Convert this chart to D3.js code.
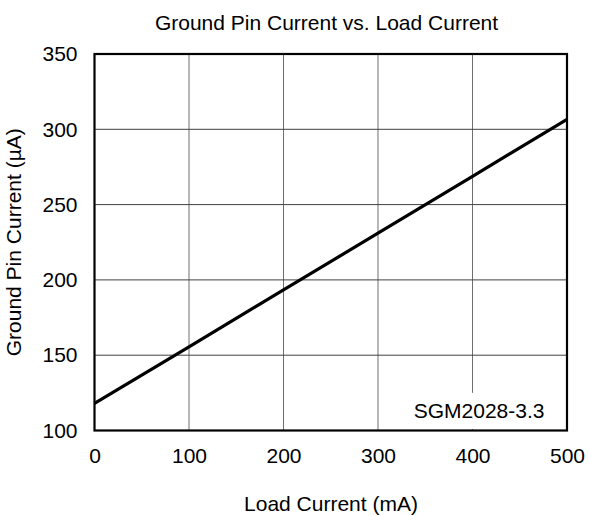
<!DOCTYPE html>
<html>
<head>
<meta charset="utf-8">
<script src="https://cdn.jsdelivr.net/npm/d3@7"></script>
<style>
  html, body { margin: 0; padding: 0; background: #fff; }
  svg { display: block; font-family: Arial, "Liberation Sans", sans-serif; }
</style>
</head>
<body>
<div id="chart"></div>
<script>
const title = "Ground Pin Current vs. Load Current";
const xLabel = "Load Current (mA)";
const yLabel = "Ground Pin Current (µA)";
const seriesLabel = "SGM2028-3.3";

const loadCurrent = [0, 100, 200, 300, 400, 500];
const groundPinCurrent = [118, 155.6, 193.4, 231, 268.8, 306.6];

const xTicks = [0, 100, 200, 300, 400, 500];
const yTicks = [100, 150, 200, 250, 300, 350];

const W = 589, H = 516;
const margin = { left: 94.5, right: 22, top: 54, bottom: 85.5 };

const svg = d3.select("#chart").append("svg")
  .attr("width", W).attr("height", H);

const x = d3.scaleLinear().domain([0, 500]).range([margin.left, W - margin.right]);
const y = d3.scaleLinear().domain([100, 350]).range([H - margin.bottom, margin.top]);

// grid
svg.append("g").selectAll("line.v").data(xTicks.slice(1, -1)).join("line")
  .attr("x1", d => x(d)).attr("x2", d => x(d))
  .attr("y1", y(100)).attr("y2", y(350))
  .attr("stroke", "#6e6e6e").attr("stroke-width", 1);
svg.append("g").selectAll("line.h").data(yTicks.slice(1, -1)).join("line")
  .attr("x1", x(0)).attr("x2", x(500))
  .attr("y1", d => y(d)).attr("y2", d => y(d))
  .attr("stroke", "#404040").attr("stroke-width", 1);

// label background + label
svg.append("rect")
  .attr("x", x(330)).attr("y", y(125))
  .attr("width", x(495) - x(330)).attr("height", y(101) - y(125))
  .attr("fill", "#fff");
svg.append("text")
  .attr("x", x(407)).attr("y", y(108.5))
  .attr("text-anchor", "middle").attr("font-size", 21)
  .attr("fill", "#000").text(seriesLabel);

// line
svg.append("path")
  .datum(loadCurrent.map((d, i) => [d, groundPinCurrent[i]]))
  .attr("fill", "none").attr("stroke", "#000").attr("stroke-width", 3.2)
  .attr("d", d3.line().x(d => x(d[0])).y(d => y(d[1])));

// frame
svg.append("rect")
  .attr("x", x(0)).attr("y", y(350))
  .attr("width", x(500) - x(0)).attr("height", y(100) - y(350))
  .attr("fill", "none").attr("stroke", "#000").attr("stroke-width", 2.2);

// axes (labels only)
const xAxis = svg.append("g").attr("transform", `translate(0,${y(100)})`)
  .call(d3.axisBottom(x).tickValues(xTicks).tickSize(0).tickPadding(17.5));
const yAxis = svg.append("g").attr("transform", `translate(${x(0)},0)`)
  .call(d3.axisLeft(y).tickValues(yTicks).tickSize(0).tickPadding(17));
[xAxis, yAxis].forEach(a => {
  a.select(".domain").remove();
  a.selectAll("text").attr("font-size", 21).attr("font-family", "Arial, 'Liberation Sans', sans-serif").attr("fill", "#000");
});

// titles
svg.append("text")
  .attr("x", 326.5).attr("y", 30)
  .attr("text-anchor", "middle").attr("font-size", 21).text(title);
svg.append("text")
  .attr("x", 331).attr("y", 511)
  .attr("text-anchor", "middle").attr("font-size", 21).text(xLabel);
svg.append("text")
  .attr("transform", `translate(21,${(y(100) + y(350)) / 2}) rotate(-90)`)
  .attr("text-anchor", "middle").attr("font-size", 21).text(yLabel);
</script>
</body>
</html>
